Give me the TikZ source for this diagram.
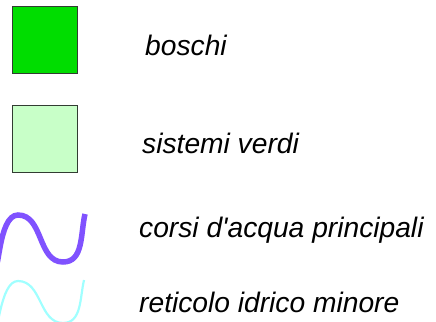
\documentclass[tikz,border=0pt]{standalone}
\usepackage{fontspec}
\setmainfont{Liberation Sans}
\definecolor{forest}{RGB}{0,221,0}
\definecolor{lightgreen}{RGB}{200,255,200}
\definecolor{mainriver}{RGB}{128,82,255}
\definecolor{minorriver}{RGB}{160,255,255}
\definecolor{edgegray}{RGB}{50,60,50}
\tikzset{
  swatch/.style={draw=edgegray, line width=1pt},
  label/.style={anchor=base west, inner sep=0pt, font=\fontsize{28.2}{30}\selectfont\itshape},
}
\begin{document}
\begin{tikzpicture}[x=1pt,y=-1pt]
\useasboundingbox (0,0) rectangle (436,321);
\clip (0,0) rectangle (436,321);
\draw[swatch, fill=forest] (12,7) rectangle (77,73);
\draw[swatch, fill=lightgreen] (12,105) rectangle (77,172);
\draw[mainriver, line width=5.5pt] (-6,262) to[out=-75,in=180] (18,215) to[out=0,in=180] (63,262) to[out=0,in=-103] (85,214);
\draw[minorriver, line width=2.2pt] (-6,322) to[out=-75,in=180] (18,281) to[out=0,in=180] (63,323) to[out=0,in=-103] (84,280);
\node[label] (b) at (145,56) {boschi};
\node[label] (s) at (142,153) {sistemi verdi};
\node[label] (c) at (139,237) {corsi d\textquotesingle acqua principali};
\node[label] (r) at (139,312) {reticolo idrico minore};
\end{tikzpicture}
\end{document}
